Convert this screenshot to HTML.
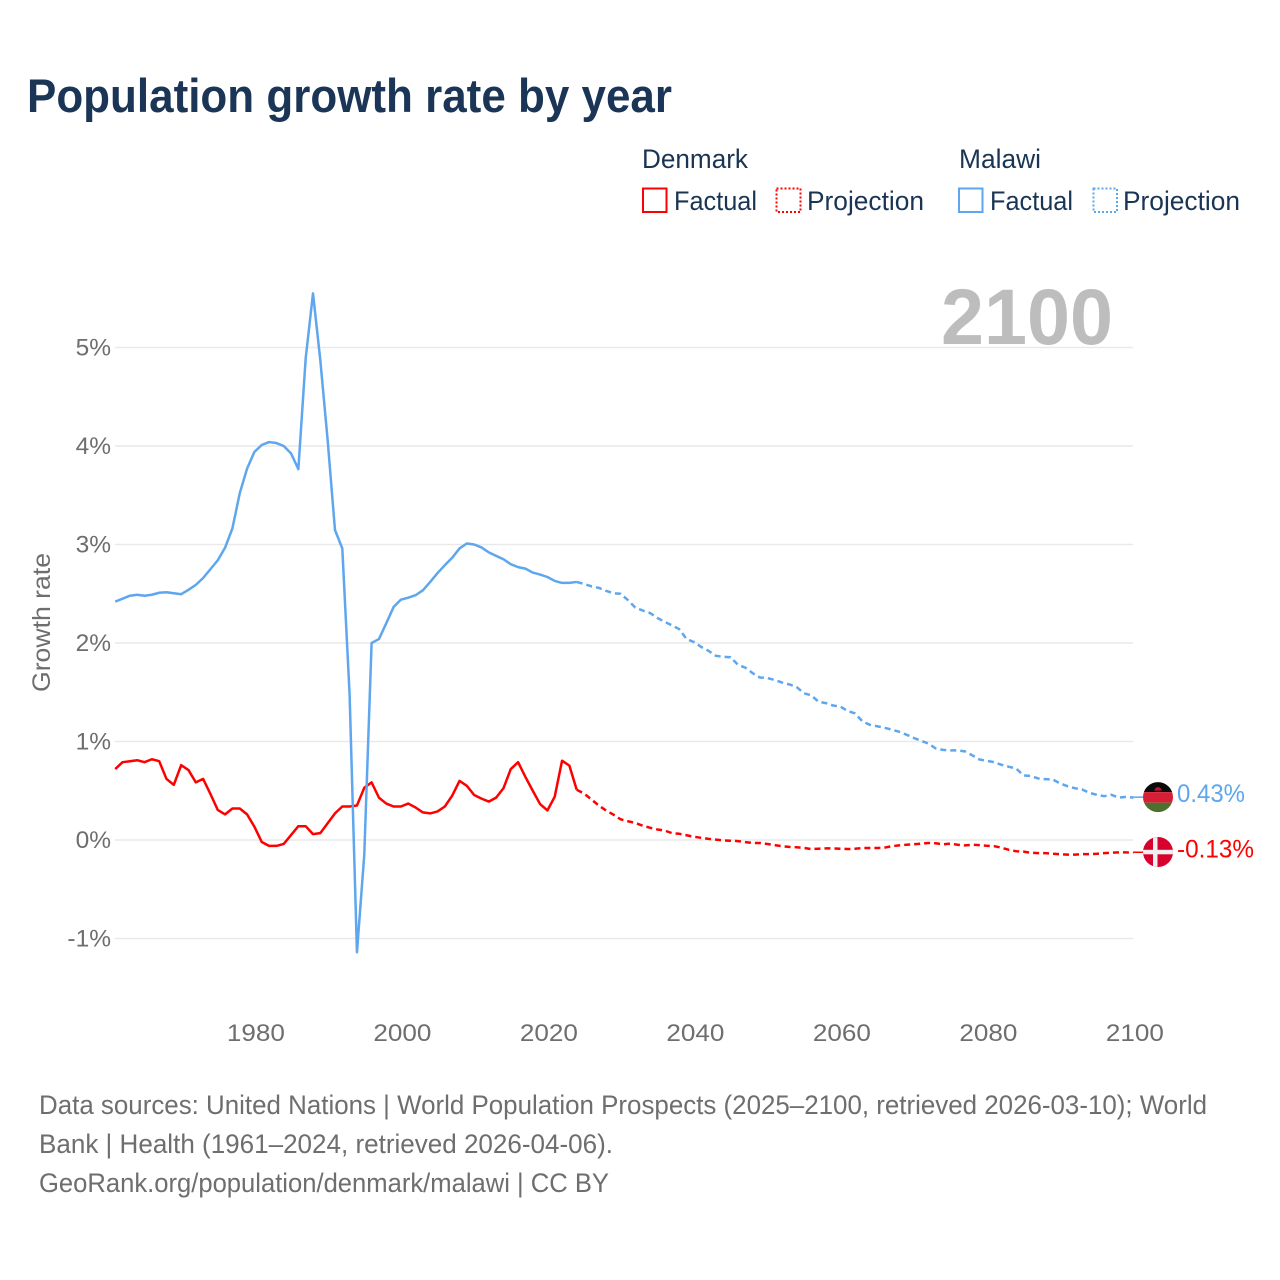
<!DOCTYPE html>
<html lang="en">
<head>
<meta charset="utf-8">
<title>Population growth rate by year</title>
<style>
html,body{margin:0;padding:0;background:#fff;width:1280px;height:1280px;overflow:hidden}
svg{display:block}
text{font-family:"Liberation Sans",sans-serif}
.leg{font-size:27px;fill:#1a3554}
.foot{font-size:26.5px;fill:#6e6e6e}
</style>
</head>
<body>
<svg id="chart" xmlns="http://www.w3.org/2000/svg" width="1280" height="1280" viewBox="0 0 1280 1280">
  <rect x="0" y="0" width="1280" height="1280" fill="#fff"/>
  <text x="27" y="112" font-size="47" font-weight="700" fill="#1a3555" textLength="645" lengthAdjust="spacingAndGlyphs">Population growth rate by year</text>

  <g>
    <text class="leg" x="642" y="168" textLength="106" lengthAdjust="spacingAndGlyphs">Denmark</text>
    <rect x="643" y="188.5" width="23.5" height="23.5" fill="none" stroke="#ff0000" stroke-width="2"/>
    <text class="leg" x="674" y="210" textLength="83" lengthAdjust="spacingAndGlyphs">Factual</text>
    <rect x="776.5" y="188.5" width="24" height="23.5" fill="none" stroke="#ff0000" stroke-width="2" stroke-dasharray="2 2"/>
    <text class="leg" x="807" y="210" textLength="117" lengthAdjust="spacingAndGlyphs">Projection</text>
    <text class="leg" x="959" y="168" textLength="82" lengthAdjust="spacingAndGlyphs">Malawi</text>
    <rect x="959" y="188.5" width="23.5" height="23.5" fill="none" stroke="#5ea6ee" stroke-width="2"/>
    <text class="leg" x="990" y="210" textLength="83" lengthAdjust="spacingAndGlyphs">Factual</text>
    <rect x="1093.5" y="188.5" width="23.5" height="23.5" fill="none" stroke="#5ea6ee" stroke-width="2" stroke-dasharray="2 2"/>
    <text class="leg" x="1123" y="210" textLength="117" lengthAdjust="spacingAndGlyphs">Projection</text>
  </g>

  <g id="grid"></g>
  <text x="941" y="344" font-size="79" font-weight="700" fill="#bdbdbd" textLength="172" lengthAdjust="spacingAndGlyphs">2100</text>
  <g id="yticks"></g>
  <g id="xticks"></g>
  <text transform="translate(50,692) rotate(-90)" font-size="25" fill="#6e6e6e" textLength="139" lengthAdjust="spacingAndGlyphs">Growth rate</text>

  <g id="series"></g>

  <defs>
    <clipPath id="flagClip"><circle cx="0" cy="0" r="15"/></clipPath>
  </defs>
  <g id="flagMalawi" clip-path="url(#flagClip)">
    <rect x="-16" y="-16" width="32" height="11" fill="#0a0a0a"/>
    <rect x="-16" y="-5" width="32" height="10.5" fill="#d81e35"/>
    <rect x="-16" y="5.5" width="32" height="11" fill="#4d7030"/>
    <path d="M-3.5 -6.5 A3.5 3.5 0 0 1 3.5 -6.5 Z" fill="#c8102e"/>
  </g>
  <g id="flagDenmark" clip-path="url(#flagClip)">
    <rect x="-16" y="-16" width="32" height="32" fill="#d8002e"/>
    <rect x="-5" y="-16" width="4.5" height="32" fill="#efefef"/>
    <rect x="-16" y="-2.2" width="32" height="4.5" fill="#efefef"/>
  </g>
  <text id="labelMalawi" x="1177" font-size="25" fill="#5ea6ee" textLength="68" lengthAdjust="spacingAndGlyphs">0.43%</text>
  <text id="labelDenmark" x="1177" font-size="25" fill="#ff0000" textLength="77" lengthAdjust="spacingAndGlyphs">-0.13%</text>

  <g>
    <text class="foot" x="39" y="1114" textLength="1168" lengthAdjust="spacingAndGlyphs">Data sources: United Nations | World Population Prospects (2025–2100, retrieved 2026-03-10); World</text>
    <text class="foot" x="39" y="1153" textLength="574" lengthAdjust="spacingAndGlyphs">Bank | Health (1961–2024, retrieved 2026-04-06).</text>
    <text class="foot" x="39" y="1192" textLength="570" lengthAdjust="spacingAndGlyphs">GeoRank.org/population/denmark/malawi | CC BY</text>
  </g>
</svg>
<script>
var firstYear = 1961;
var factualEndYear = 2024;
var yTickValues = [5, 4, 3, 2, 1, 0, -1];
var yTickLabels = ["5%", "4%", "3%", "2%", "1%", "0%", "-1%"];
var xTickYears = [1980, 2000, 2020, 2040, 2060, 2080, 2100];

var denmarkFactual = [0.72,0.79,0.80,0.81,0.79,0.82,0.80,0.62,0.56,0.76,0.71,0.585,0.62,0.467,0.305,0.26,0.32,0.32,0.26,0.135,-0.02,-0.06,-0.06,-0.04,0.05,0.14,0.14,0.06,0.07,0.17,0.27,0.34,0.34,0.35,0.53,0.585,0.43,0.37,0.34,0.34,0.37,0.33,0.28,0.27,0.29,0.34,0.45,0.60,0.55,0.457,0.42,0.39,0.43,0.525,0.72,0.79,0.64,0.50,0.365,0.30,0.44,0.805,0.755,0.51];
var denmarkProjection = [0.51,0.472,0.413,0.35,0.30,0.258,0.21,0.19,0.173,0.145,0.125,0.107,0.096,0.07,0.063,0.048,0.033,0.022,0.011,0.004,-0.004,-0.007,-0.011,-0.022,-0.03,-0.03,-0.04,-0.052,-0.063,-0.07,-0.074,-0.08,-0.092,-0.089,-0.085,-0.085,-0.089,-0.092,-0.089,-0.081,-0.081,-0.081,-0.078,-0.063,-0.055,-0.048,-0.044,-0.037,-0.03,-0.033,-0.044,-0.037,-0.048,-0.055,-0.048,-0.052,-0.059,-0.063,-0.078,-0.10,-0.114,-0.118,-0.129,-0.133,-0.133,-0.14,-0.144,-0.148,-0.148,-0.144,-0.144,-0.14,-0.133,-0.129,-0.126,-0.126,-0.13];
var malawiFactual = [2.42,2.45,2.48,2.49,2.48,2.49,2.51,2.515,2.505,2.495,2.54,2.59,2.66,2.75,2.84,2.968,3.165,3.52,3.77,3.94,4.01,4.04,4.03,4.0,3.925,3.765,4.89,5.55,4.87,4.06,3.147,2.96,1.47,-1.14,-0.15,2.0,2.04,2.2,2.365,2.44,2.46,2.485,2.535,2.62,2.71,2.79,2.865,2.96,3.01,3.0,2.97,2.92,2.885,2.85,2.80,2.77,2.755,2.715,2.695,2.67,2.63,2.61,2.61,2.62];
var malawiProjection = [2.62,2.6,2.575,2.56,2.53,2.505,2.5,2.435,2.36,2.33,2.305,2.255,2.215,2.18,2.14,2.04,2.01,1.96,1.92,1.87,1.86,1.855,1.78,1.75,1.695,1.65,1.645,1.625,1.6,1.58,1.555,1.49,1.47,1.405,1.39,1.365,1.355,1.31,1.285,1.205,1.17,1.155,1.14,1.12,1.10,1.07,1.037,1.007,0.98,0.93,0.915,0.91,0.91,0.90,0.86,0.817,0.804,0.79,0.763,0.743,0.726,0.655,0.65,0.625,0.618,0.614,0.574,0.546,0.526,0.513,0.479,0.459,0.445,0.459,0.43,0.438,0.43];

var NS = "http://www.w3.org/2000/svg";
function xScale(year) { return 254.4 + (year - 1980) * 7.325; }
function yScale(v) { return 840 - v * 98.5; }
function linePath(values, startYear) {
  var d = "";
  for (var i = 0; i < values.length; i++) {
    d += (i ? "L" : "M") + xScale(startYear + i).toFixed(2) + " " + yScale(values[i]).toFixed(2);
  }
  return d;
}
function drawLine(values, startYear, color, dashed, name) {
  var p = document.createElementNS(NS, "path");
  p.setAttribute("d", linePath(values, startYear));
  p.setAttribute("fill", "none");
  p.setAttribute("stroke", color);
  p.setAttribute("stroke-width", "2.5");
  p.setAttribute("stroke-linejoin", "round");
  if (dashed) p.setAttribute("stroke-dasharray", "6 4");
  
  
  document.getElementById("series").appendChild(p);
}
function drawConnector(value, color, name) {
  var c = document.createElementNS(NS, "line");
  c.setAttribute("x1", xScale(2100));
  c.setAttribute("x2", 1150);
  c.setAttribute("y1", yScale(value) - 0.5);
  c.setAttribute("y2", yScale(value) - 0.5);
  c.setAttribute("stroke", color);
  c.setAttribute("stroke-width", "1.5");
  
  
  document.getElementById("series").appendChild(c);
}

yTickValues.forEach(function (v, i) {
  var g = document.createElementNS(NS, "line");
  g.setAttribute("x1", 115);
  g.setAttribute("x2", 1133);
  g.setAttribute("y1", yScale(v));
  g.setAttribute("y2", yScale(v));
  g.setAttribute("stroke", "#e9e9e9");
  g.setAttribute("stroke-width", "1.6");
  
  
  document.getElementById("grid").appendChild(g);

  var t = document.createElementNS(NS, "text");
  t.setAttribute("x", 111);
  t.setAttribute("y", yScale(v) + 8);
  t.setAttribute("text-anchor", "end");
  t.setAttribute("font-size", "24.5");
  t.setAttribute("fill", "#6e6e6e");
  
  
  t.textContent = yTickLabels[i];
  document.getElementById("yticks").appendChild(t);
});

xTickYears.forEach(function (year) {
  var t = document.createElementNS(NS, "text");
  t.setAttribute("x", xScale(year) - 27.5);
  t.setAttribute("y", 1041);
  t.setAttribute("font-size", "24.5");
  t.setAttribute("fill", "#6e6e6e");
  t.setAttribute("textLength", "58");
  t.setAttribute("lengthAdjust", "spacingAndGlyphs");
  
  
  t.textContent = String(year);
  document.getElementById("xticks").appendChild(t);
});

var red = "#ff0000";
var blue = "#5ea6ee";
drawLine(denmarkProjection, factualEndYear, red, true, "denmark-projection-line");
drawLine(denmarkFactual, firstYear, red, false, "denmark-factual-line");
drawLine(malawiProjection, factualEndYear, blue, true, "malawi-projection-line");
drawLine(malawiFactual, firstYear, blue, false, "malawi-factual-line");

var dkEnd = denmarkProjection[denmarkProjection.length - 1];
var mwEnd = malawiProjection[malawiProjection.length - 1];
drawConnector(dkEnd, red, "denmark-end-connector");
drawConnector(mwEnd, blue, "malawi-end-connector");

document.getElementById("flagMalawi").setAttribute("transform", "translate(1158," + (yScale(mwEnd) - 0.5) + ")");
document.getElementById("flagDenmark").setAttribute("transform", "translate(1158," + (yScale(dkEnd) - 0.8) + ")");
document.getElementById("labelMalawi").setAttribute("y", yScale(mwEnd) + 4.5);
document.getElementById("labelDenmark").setAttribute("y", yScale(dkEnd) + 4.5);
</script>
</body>
</html>
